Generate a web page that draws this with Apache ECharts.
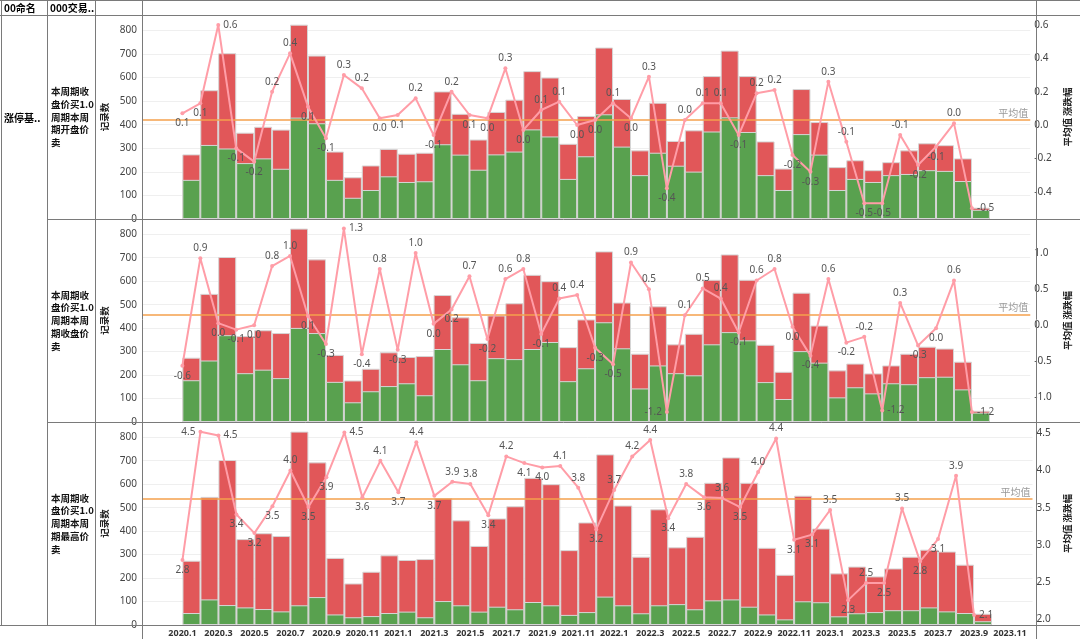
<!DOCTYPE html>
<html><head><meta charset="utf-8">
<script src="https://cdn.jsdelivr.net/npm/echarts@6/dist/echarts.min.js"></script>
<style>html,body{margin:0;padding:0;background:#fff}#c{width:1080px;height:639px}</style>
</head><body><div id="c"></div>
<script>
// ---------- data ----------
const months = ['2020.1','2020.2','2020.3','2020.4','2020.5','2020.6','2020.7','2020.8','2020.9','2020.10','2020.11','2020.12',
  '2021.1','2021.2','2021.3','2021.4','2021.5','2021.6','2021.7','2021.8','2021.9','2021.10','2021.11','2021.12',
  '2022.1','2022.2','2022.3','2022.4','2022.5','2022.6','2022.7','2022.8','2022.9','2022.10','2022.11','2022.12',
  '2023.1','2023.2','2023.3','2023.4','2023.5','2023.6','2023.7','2023.8','2023.9'];
const xTickLabels = ['2020.1','2020.3','2020.5','2020.7','2020.9','2020.11','2021.1','2021.3','2021.5','2021.7','2021.9','2021.11',
  '2022.1','2022.3','2022.5','2022.7','2022.9','2022.11','2023.1','2023.3','2023.5','2023.7','2023.9','2023.11'];
const rowHeaders = ['本周期收\n盘价买1.0\n周期本周\n期开盘价\n卖','本周期收\n盘价买1.0\n周期本周\n期收盘价\n卖','本周期收\n盘价买1.0\n周期本周\n期最高价\n卖'];
// 记录数 (total per month, same in all rows)
const recordTotal = [274,546,703,366,391,379,824,693,286,177,227,297,277,281,541,446,337,454,506,627,600,319,437,727,509,291,493,331,376,606,714,606,329,214,551,411,220,249,207,241,291,321,313,257,48];
// green (rising) part of the count, per row
const greenOpen  = [166,314,299,237,257,213,430,406,166,90,123,181,157,160,317,273,209,274,286,380,350,170,266,444,307,186,281,226,201,371,431,369,186,123,360,273,123,170,157,186,191,207,204,161,39];
const greenClose = [178,262,370,208,223,187,401,379,171,84,131,153,165,114,311,246,178,272,268,311,341,174,229,425,314,143,241,208,199,331,383,348,170,98,302,253,105,148,122,165,161,191,193,139,40];
const greenHigh  = [51,109,85,75,68,58,84,119,45,33,38,51,57,33,102,84,57,78,67,98,84,43,55,121,84,50,84,89,67,105,109,78,45,24,101,97,37,50,55,63,63,75,58,51,16];
// 平均值 涨跌幅 per row
const chgOpen  = [0.07,0.13,0.60,-0.14,-0.22,0.20,0.43,0.11,-0.08,0.30,0.22,0.04,0.06,0.16,-0.06,0.20,0.06,0.04,0.34,-0.03,0.09,0.14,0.00,0.03,0.13,0.04,0.29,-0.38,0.03,0.13,0.13,-0.06,0.19,0.21,-0.18,-0.28,0.26,-0.10,-0.47,-0.47,-0.06,-0.24,-0.13,0.01,-0.50];
const chgClose = [-0.56,0.93,0.03,-0.06,0.00,0.82,0.96,0.13,-0.26,1.34,-0.40,0.78,-0.34,1.00,0.02,0.22,0.68,-0.19,0.64,0.78,-0.12,0.37,0.42,-0.31,-0.54,0.87,0.50,-1.20,0.14,0.51,0.37,-0.10,0.62,0.78,-0.02,-0.42,0.64,-0.24,-0.16,-1.18,0.31,-0.28,-0.04,0.62,-1.20];
const chgHigh  = [2.80,4.52,4.47,3.41,3.16,3.52,4.00,3.51,3.91,4.51,3.64,4.13,3.71,4.38,3.66,3.85,3.82,3.40,4.19,4.10,4.04,4.06,3.77,3.21,3.74,4.19,4.41,3.36,3.82,3.64,3.63,3.51,3.98,4.43,3.07,3.14,3.47,2.26,2.49,2.49,3.49,2.78,3.08,3.93,2.06];
const leftTicks = [0,100,200,300,400,500,600,700,800];
const rightTicks = [[-0.4,-0.2,0,0.2,0.4,0.6],[-1,-0.5,0,0.5,1],[2,2.5,3,3.5,4,4.5]];
const rightRange = [[-0.564,0.66],[-1.339,1.472],[1.926,4.652]];
const countMax = 865;

// ---------- helpers ----------
const monthIndex = s => { const [y,m] = s.split('.').map(Number); return (y-2020)*12 + (m-1); };
const fmt1 = v => { let s = v.toFixed(1); return s === '-0.0' ? '0.0' : s; };
const numFont = '"Noto Sans", "Noto Sans CJK SC", sans-serif';
const cjkFont = '"Noto Sans CJK SC", sans-serif';

const greens = [greenOpen, greenClose, greenHigh];
const chgs = [chgOpen, chgClose, chgHigh];
const gridTops = [15, 219, 422];
const gridHeights = [204, 203, 203];
const PL = 142, PR = 1036;

function labelPos(c, i, range, h) {
  const prev = i > 0 ? c[i-1] : null, next = i < c.length - 1 ? c[i+1] : null;
  const p = prev === null ? next : prev, n = next === null ? prev : next;
  const up = c[i] >= (p + n) / 2;
  const span = range[1] - range[0];
  if (up && (range[1] - c[i]) / span * h < 14) {
    if (prev === null) return 'left';
    if (next === null) return 'right';
    return prev > next ? 'right' : 'left';
  }
  if (!up && (c[i] - range[0]) / span * h < 14) {
    if (next === null) return 'right';
    if (prev === null) return 'left';
    return prev < next ? 'right' : 'left';
  }
  return up ? 'top' : 'bottom';
}

const grids = [], xAxes = [], yAxes = [], series = [];
for (let k = 0; k < 3; k++) {
  grids.push({left: PL, right: 1080 - PR, top: gridTops[k], height: gridHeights[k], containLabel: false});
  xAxes.push({
    type: 'value', gridIndex: k, min: -2.25, max: 47.25,
    axisLine: {show: false}, axisTick: {show: false}, splitLine: {show: false},
    axisLabel: k === 2 ? {
      show: true, customValues: xTickLabels.map(monthIndex),
      formatter: v => { const t = xTickLabels.find(s => monthIndex(s) === Math.round(v)); return t || ''; },
      color: '#333', fontSize: 9, fontWeight: 'bold', fontFamily: numFont, margin: 4
    } : {show: false}
  });
  yAxes.push({
    type: 'value', gridIndex: k, position: 'left', min: 0, max: countMax, interval: 100,
    axisLine: {show: false}, axisTick: {show: false},
    axisLabel: {customValues: leftTicks, formatter: v => String(v), color: '#444', fontSize: 10, margin: 5, fontFamily: numFont},
    splitLine: {show: true, lineStyle: {color: '#efefef', width: 1}},
    name: '记录数', nameLocation: 'middle', nameGap: 31, nameRotate: 90,
    nameTextStyle: {color: '#222', fontSize: 9.5, fontWeight: 'bold', fontFamily: cjkFont}
  });
  yAxes.push({
    type: 'value', gridIndex: k, position: 'right', min: rightRange[k][0], max: rightRange[k][1],
    axisLine: {show: false}, axisTick: {show: false}, splitLine: {show: false},
    axisLabel: {customValues: rightTicks[k], formatter: v => fmt1(v), color: '#444', fontSize: 10, margin: 4, fontFamily: numFont},
    name: '平均值 涨跌幅', nameLocation: 'middle', nameGap: 30, nameRotate: 90,
    nameTextStyle: {color: '#222', fontSize: 9.5, fontWeight: 'bold', fontFamily: cjkFont}
  });

  const g = greens[k], c = chgs[k];
  // full-height red bar (total) with the green part drawn over its lower portion
  series.push({
    type: 'bar', xAxisIndex: k, yAxisIndex: 2*k, barWidth: 18, barGap: '-100%',
    itemStyle: {color: '#E15759', borderColor: '#d6d6d6', borderWidth: 1},
    data: months.map((m, i) => [monthIndex(m) + 0.5, recordTotal[i]]), z: 2
  });
  series.push({
    type: 'bar', xAxisIndex: k, yAxisIndex: 2*k, barWidth: 18, barGap: '-100%',
    itemStyle: {color: '#59A14F', borderColor: '#d6d6d6', borderWidth: 1},
    data: months.map((m, i) => [monthIndex(m) + 0.5, g[i]]), z: 3
  });
  const mean = c.reduce((a, b) => a + b, 0) / c.length;
  series.push({
    type: 'line', xAxisIndex: k, yAxisIndex: 2*k + 1, z: 5,
    symbol: 'circle', symbolSize: 4,
    lineStyle: {color: '#FF9DA7', width: 2}, itemStyle: {color: '#FF9DA7'},
    label: {show: true, formatter: p => fmt1(p.value[1]), color: '#555', fontSize: 10, fontFamily: numFont, distance: 3},
    data: months.map((m, i) => ({value: [monthIndex(m), c[i]], label: {position: labelPos(c, i, rightRange[k], gridHeights[k])}})),
    markLine: {
      silent: true, symbol: 'none', animation: false,
      lineStyle: {color: '#F5A04D', width: 1.5, type: 'solid'},
      label: {show: true, formatter: '平均值', position: 'insideEndTop', color: '#999', fontSize: 10, fontFamily: cjkFont, distance: 2},
      data: [{yAxis: mean}]
    }
  });
}

// ---------- table frame ----------
const LC = '#7a7a7a';
const ln = (x1, y1, x2, y2) => ({type: 'line', z: 100, silent: true, shape: {x1, y1, x2, y2}, style: {stroke: LC, lineWidth: 1}});
const graphics = [
  ln(0, 0.5, 1080, 0.5), ln(0, 15.5, 1080, 15.5), ln(47, 219.5, 1080, 219.5), ln(47, 422.5, 1080, 422.5), ln(0, 625.5, 1080, 625.5),
  ln(1.5, 0, 1.5, 626), ln(47.5, 0, 47.5, 626), ln(95.5, 0, 95.5, 626), ln(142.5, 0, 142.5, 639), ln(1036.5, 0, 1036.5, 639),
  {type: 'text', x: 4, y: 8, z: 100, style: {text: '00命名', font: 'bold 10px ' + cjkFont, fill: '#000', verticalAlign: 'middle'}},
  {type: 'text', x: 50, y: 8, z: 100, style: {text: '000交易..', font: 'bold 10px ' + cjkFont, fill: '#000', verticalAlign: 'middle'}},
  {type: 'text', x: 4, y: 118, z: 100, style: {text: '涨停基..', font: 'bold 10px ' + cjkFont, fill: '#000', verticalAlign: 'middle'}}
];
rowHeaders.forEach((t, k) => graphics.push({
  type: 'text', x: 51, y: gridTops[k] + gridHeights[k] / 2, z: 100,
  style: {text: t, font: 'bold 9.5px ' + cjkFont, fill: '#111', verticalAlign: 'middle', lineHeight: 12.7}
}));

const chart = echarts.init(document.getElementById('c'));
chart.setOption({
  animation: false, backgroundColor: '#fff',
  grid: grids, xAxis: xAxes, yAxis: yAxes, series: series, graphic: graphics
});
</script></body></html>
